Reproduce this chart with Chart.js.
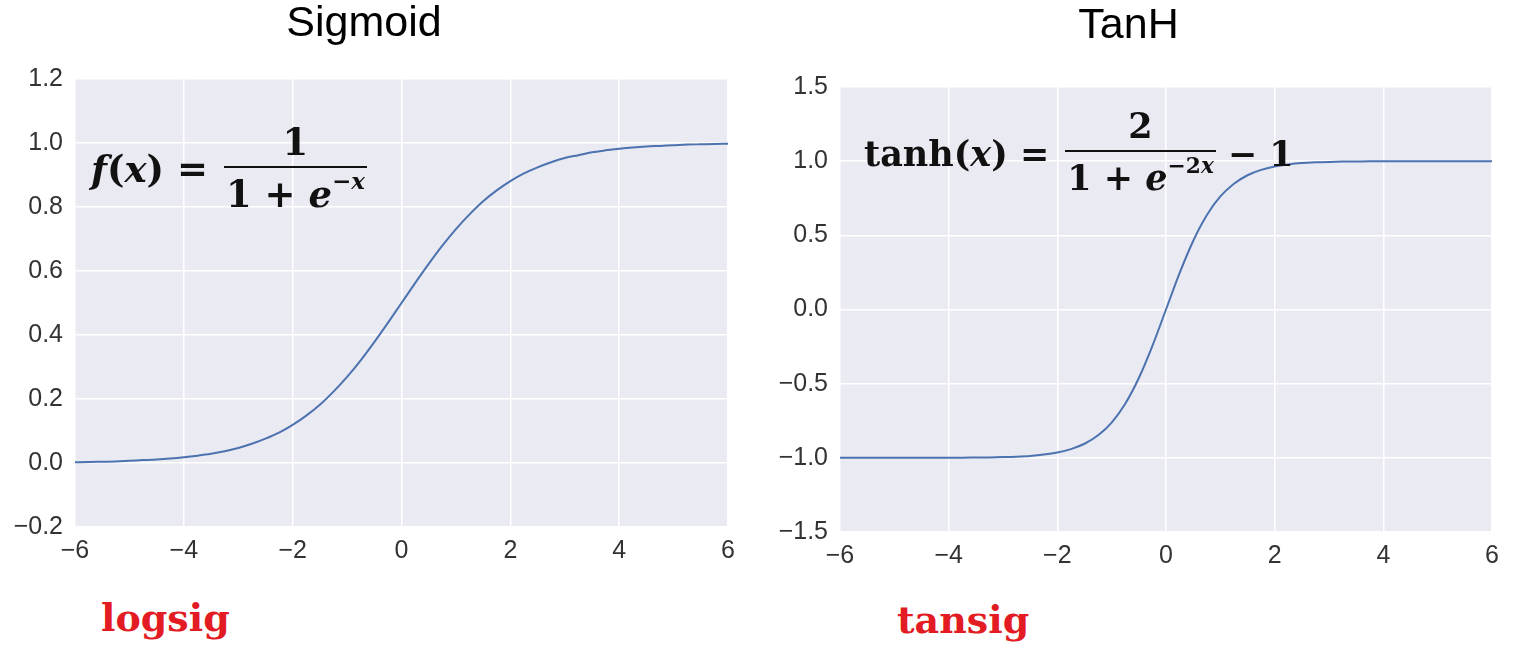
<!DOCTYPE html>
<html lang="en">
<head>
<meta charset="utf-8" />
<title>Sigmoid and TanH</title>
<script src="https://cdn.jsdelivr.net/npm/chart.js@4.4.1/dist/chart.umd.min.js"></script>
<style>
    body { margin: 0; background: #fff; width: 1525px; height: 655px; position: relative; overflow: hidden; }
    .box { position: absolute; }
    .eq { position: absolute; font-family: "DejaVu Serif", serif; font-weight: bold; color: #111; white-space: nowrap; display: flex; align-items: center; }
    .frac { display: inline-flex; flex-direction: column; align-items: stretch; text-align: center; margin: 0 0 0 16px; }
    .frac .num { border-bottom: 2.5px solid #111; line-height: 40px; padding: 0 2px 4px 2px; }
    .frac .den { line-height: 44px; padding: 4px 2px 0 2px; }
    .eq sup { font-size: 0.62em; vertical-align: 0.8em; line-height: 0; }
    .eq .tail { margin-left: 12px; }
    .tag { position: absolute; font-family: "DejaVu Serif", serif; font-weight: bold; font-size: 38px; color: #e31b23; }
</style>
</head>
<body>
<div class="box" style="left:0px;top:0px;width:750px;height:575px"><canvas id="sig"></canvas></div>
<div class="box" style="left:765px;top:0px;width:750px;height:580px"><canvas id="tanh"></canvas></div>

<div class="eq" style="left:91px;top:122px;font-size:37px"><span><i>f</i>(<i>x</i>) =</span><span class="frac"><span class="num">1</span><span class="den">1 + <i>e</i><sup>−<i>x</i></sup></span></span></div>
<div class="eq" style="left:864px;top:106px;font-size:35px"><span>tanh(<i>x</i>) =</span><span class="frac"><span class="num">2</span><span class="den">1 + <i>e</i><sup>−2<i>x</i></sup></span></span><span class="tail">− 1</span></div>

<div class="tag" style="left:101px;top:595px">logsig</div>
<div class="tag" style="left:897px;top:597px">tansig</div>

<script>
// x positions the curves were read at
var xs = [-6, -5.75, -5.5, -5.25, -5, -4.75, -4.5, -4.25, -4, -3.75, -3.5, -3.25, -3, -2.75, -2.5, -2.25,
          -2, -1.75, -1.5, -1.25, -1, -0.75, -0.5, -0.25, 0, 0.25, 0.5, 0.75, 1, 1.25, 1.5, 1.75,
          2, 2.25, 2.5, 2.75, 3, 3.25, 3.5, 3.75, 4, 4.25, 4.5, 4.75, 5, 5.25, 5.5, 5.75, 6];

// values
var sigmoidVals = [0.0025, 0.003, 0.004, 0.005, 0.007, 0.009, 0.011, 0.014, 0.018, 0.023, 0.029, 0.037, 0.047, 0.060, 0.076, 0.095,
                   0.119, 0.148, 0.182, 0.223, 0.269, 0.321, 0.378, 0.438, 0.5, 0.562, 0.622, 0.679, 0.731, 0.777, 0.818, 0.852,
                   0.881, 0.905, 0.924, 0.940, 0.953, 0.962, 0.971, 0.977, 0.982, 0.986, 0.989, 0.991, 0.993, 0.995, 0.996, 0.997, 0.9975];
var tanhVals = [-1, -1, -1, -1, -1, -1, -1, -1, -0.999, -0.999, -0.998, -0.997, -0.995, -0.992, -0.987, -0.978,
                -0.964, -0.941, -0.905, -0.848, -0.762, -0.635, -0.462, -0.245, 0, 0.245, 0.462, 0.635, 0.762, 0.848, 0.905, 0.941,
                0.964, 0.978, 0.987, 0.992, 0.995, 0.997, 0.998, 0.999, 0.999, 1, 1, 1, 1, 1, 1, 1, 1];

var titles = ['Sigmoid', 'TanH'];
var sigYTicks = { min: -0.2, max: 1.2, step: 0.2 };
var tanhYTicks = { min: -1.5, max: 1.5, step: 0.5 };
var xTicks = { min: -6, max: 6, step: 2 };

var lineColor = '#4C72B0';
var panelColor = '#EAEAF2';

function minusFmt(v, digits) {
    var s = Math.abs(v) < 1e-9 ? (0).toFixed(digits) : v.toFixed(digits);
    return s.replace('-', '\u2212');
}

// seaborn-like grey panel behind the plot
var panelBg = {
    id: 'panelBg',
    beforeDraw: function (chart) {
        var a = chart.chartArea, ctx = chart.ctx;
        ctx.save();
        ctx.fillStyle = panelColor;
        ctx.fillRect(a.left, a.top, a.right - a.left, a.bottom - a.top);
        ctx.restore();
    }
};

function makeChart(id, title, vals, yt, titlePad, padRight) {
    var pts = xs.map(function (x, i) { return { x: x, y: vals[i] }; });
    var tickFont = { family: 'Liberation Sans', size: 25 };
    return new Chart(document.getElementById(id), {
        type: 'line',
        data: { datasets: [{ data: pts, borderColor: lineColor, borderWidth: 2, pointRadius: 0, cubicInterpolationMode: 'monotone', fill: false }] },
        options: {
            responsive: true,
            maintainAspectRatio: false,
            animation: false,
            layout: { padding: { left: 0, right: padRight, top: 0, bottom: 0 } },
            plugins: {
                legend: { display: false },
                tooltip: { enabled: false },
                title: { display: true, text: title, color: '#000', font: { family: 'Liberation Sans', size: 43, weight: 'normal', lineHeight: 1.1 }, padding: titlePad }
            },
            scales: {
                x: {
                    type: 'linear', min: xTicks.min, max: xTicks.max,
                    afterFit: function (s) { s.height = 48; },
                    grid: { color: '#ffffff', lineWidth: 1.5, drawTicks: false },
                    border: { display: false },
                    ticks: { stepSize: xTicks.step, padding: 9, color: '#333333', font: tickFont,
                             callback: function (v) { return minusFmt(v, 0); } }
                },
                y: {
                    min: yt.min, max: yt.max,
                    afterFit: function (s) { s.width = 75; },
                    grid: { color: '#ffffff', lineWidth: 1.5, drawTicks: false },
                    border: { display: false },
                    ticks: { stepSize: yt.step, padding: 12, color: '#333333', font: tickFont,
                             callback: function (v) { return minusFmt(v, 1); } }
                }
            }
        },
        plugins: [panelBg]
    });
}

makeChart('sig', titles[0], sigmoidVals, sigYTicks, { top: 0, bottom: 31.7 }, 22);
makeChart('tanh', titles[1], tanhVals, tanhYTicks, { top: 2, bottom: 37.7 }, 23);
</script>
</body>
</html>
